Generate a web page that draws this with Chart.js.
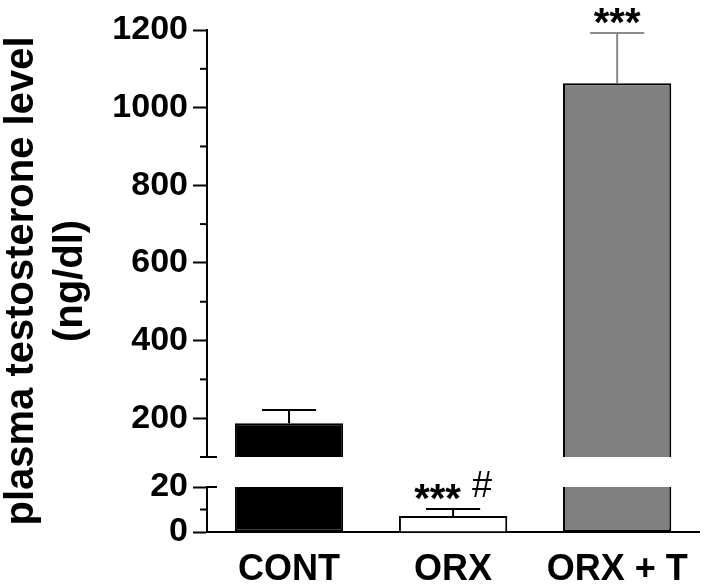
<!DOCTYPE html>
<html>
<head>
<meta charset="utf-8">
<script src="https://cdn.jsdelivr.net/npm/chart.js@4"></script>
<style>
  html, body { margin: 0; padding: 0; background: #fff; }
  #wrap { width: 708px; height: 588px; }
</style>
</head>
<body>
<div id="wrap"><canvas id="testosterone-chart" width="708" height="588"></canvas></div>
<script>
const groups = ["CONT", "ORX", "ORX + T"];
const meanLevel = [187, 7.1, 1063];
const semLevel = [34, 3.1, 129];
const barColors = ["#000000", "#ffffff", "#808080"];
const errorColors = ["#000000", "#000000", "#8a8a8a"];
const starMarks = ["", "***", "***"];
const hashMarks = ["", "#", ""];
const upperTicks = [200, 400, 600, 800, 1000, 1200];
const lowerTicks = [0, 20];
const titleLines = ["plasma testosterone level", "(ng/dl)"];

// axis break: lower segment 0-20, upper segment 100-1200
const BREAK_LOW = 20;
const BREAK_HIGH = 100;

const FONT = "'Liberation Sans', Arial, sans-serif";
Chart.defaults.font.family = FONT;
Chart.defaults.color = "#000";

const AXIS_RIGHT = 207;
const X_AXIS_HEIGHT = 56;

// minor ticks and the little break marks on the y axis
const axisDecor = {
  id: "axisDecor",
  afterDraw(chart) {
    const { ctx, scales } = chart;
    const x = scales.yTop.right;
    ctx.save();
    ctx.strokeStyle = "#000";
    ctx.lineWidth = 2;
    const mark = (y, left, right) => {
      ctx.beginPath();
      ctx.moveTo(x - left, y);
      ctx.lineTo(x + right, y);
      ctx.stroke();
    };
    scales.yTop.ticks.forEach((t) => {
      if (!upperTicks.includes(t.value)) {
        mark(scales.yTop.getPixelForValue(t.value), 7, t.value === BREAK_HIGH ? 10 : 0);
      }
    });
    scales.yBot.ticks.forEach((t) => {
      const y = scales.yBot.getPixelForValue(t.value);
      if (!lowerTicks.includes(t.value)) mark(y, 7, 0);
      if (t.value === BREAK_LOW) mark(y, 0, 10);
    });
    ctx.restore();
  },
};

const errorBars = {
  id: "errorBars",
  afterDatasetsDraw(chart) {
    const { ctx, scales } = chart;
    const bars = chart.getDatasetMeta(1).data;
    ctx.save();
    ctx.lineWidth = 2;
    meanLevel.forEach((v, i) => {
      const scale = v >= BREAK_HIGH ? scales.yTop : scales.yBot;
      const x = bars[i].x;
      const half = bars[i].width / 4;
      const y0 = scale.getPixelForValue(v);
      const y1 = scale.getPixelForValue(v + semLevel[i]);
      ctx.strokeStyle = errorColors[i];
      ctx.beginPath();
      ctx.moveTo(x, y0);
      ctx.lineTo(x, y1);
      ctx.moveTo(x - half, y1);
      ctx.lineTo(x + half, y1);
      ctx.stroke();

      // significance marks
      const base = y1 + 3;
      ctx.fillStyle = "#000";
      ctx.textBaseline = "alphabetic";
      ctx.textAlign = "left";
      ctx.font = "bold 40px " + FONT;
      const stars = starMarks[i] + (hashMarks[i] ? " " : "");
      const w1 = ctx.measureText(stars).width;
      ctx.font = "36px " + FONT;
      const w2 = hashMarks[i] ? ctx.measureText(hashMarks[i]).width : 0;
      const start = x - (w1 + w2) / 2;
      ctx.font = "bold 40px " + FONT;
      ctx.fillText(stars, start, base);
      if (hashMarks[i]) {
        ctx.font = "36px " + FONT;
        ctx.fillText(hashMarks[i], start + w1, base - 15);
      }
    });
    ctx.restore();
  },
};

const yTitle = {
  id: "yTitle",
  afterDraw(chart) {
    const { ctx, chartArea } = chart;
    const cy = (chartArea.top + chartArea.bottom) / 2;
    ctx.save();
    ctx.fillStyle = "#000";
    ctx.font = "bold 40px " + FONT;
    ctx.textAlign = "center";
    ctx.textBaseline = "alphabetic";
    titleLines.forEach((line, i) => {
      ctx.save();
      ctx.translate(33 + i * 49, cy);
      ctx.rotate(-Math.PI / 2);
      ctx.fillText(line, 0, 0);
      ctx.restore();
    });
    ctx.restore();
  },
};

const tickFont = { size: 34, weight: "bold" };

// fixed axis width, no extra label padding so the stack fills the plot
const fitAxis = (s) => {
  s.width = AXIS_RIGHT;
  s.paddingTop = 0;
  s.paddingBottom = 0;
};

const ctx = document.getElementById("testosterone-chart").getContext("2d");
new Chart(ctx, {
  type: "bar",
  data: {
    labels: groups,
    datasets: [
      {
        label: "upper",
        data: meanLevel.map((v) => (v >= BREAK_HIGH ? v : null)),
        yAxisID: "yTop",
        backgroundColor: barColors,
        borderColor: "#000",
        borderWidth: 2,
        borderSkipped: "bottom",
        grouped: false,
      },
      {
        label: "lower",
        data: meanLevel.map((v) => Math.min(v, BREAK_LOW)),
        yAxisID: "yBot",
        backgroundColor: barColors,
        borderColor: "#000",
        borderWidth: 2,
        borderSkipped: (c) => (meanLevel[c.dataIndex] > BREAK_LOW ? "top" : "bottom"),
        grouped: false,
      },
    ],
  },
  options: {
    responsive: false,
    animation: false,
    devicePixelRatio: 1,
    categoryPercentage: 1,
    barPercentage: 0.66,
    layout: { padding: { top: 30, right: 2, left: 0, bottom: 0 } },
    plugins: { legend: { display: false }, tooltip: { enabled: false } },
    scales: {
      x: {
        grid: { display: false, drawTicks: false },
        border: { display: true, color: "#000", width: 2 },
        ticks: { font: { size: 36, weight: "bold", lineHeight: 1 }, padding: 20 },
        afterFit: (s) => { s.height = X_AXIS_HEIGHT; },
      },
      // stacked scales are placed bottom first
      yBot: {
        type: "linear",
        position: "left",
        stack: "y",
        stackWeight: 45,
        min: 0,
        max: BREAK_LOW,
        ticks: {
          stepSize: 10,
          autoSkip: false,
          padding: 5,
          font: tickFont,
          callback: (v) => (lowerTicks.includes(v) ? v : ""),
        },
        grid: {
          drawOnChartArea: false,
          tickLength: 14,
          tickWidth: 2,
          tickColor: (c) => (lowerTicks.includes(c.tick.value) ? "#000" : "rgba(0,0,0,0)"),
        },
        border: { color: "#000", width: 2 },
        afterFit: fitAxis,
      },
      yGap: {
        type: "linear",
        position: "left",
        stack: "y",
        stackWeight: 30,
        display: false,
      },
      yTop: {
        type: "linear",
        position: "left",
        stack: "y",
        stackWeight: 427,
        min: BREAK_HIGH,
        max: 1200,
        ticks: {
          stepSize: 100,
          autoSkip: false,
          padding: 5,
          font: tickFont,
          callback: (v) => (upperTicks.includes(v) ? v : ""),
        },
        grid: {
          drawOnChartArea: false,
          tickLength: 14,
          tickWidth: 2,
          tickColor: (c) => (upperTicks.includes(c.tick.value) ? "#000" : "rgba(0,0,0,0)"),
        },
        border: { color: "#000", width: 2 },
        afterFit: fitAxis,
      },
    },
  },
  plugins: [axisDecor, errorBars, yTitle],
});
</script>
</body>
</html>
